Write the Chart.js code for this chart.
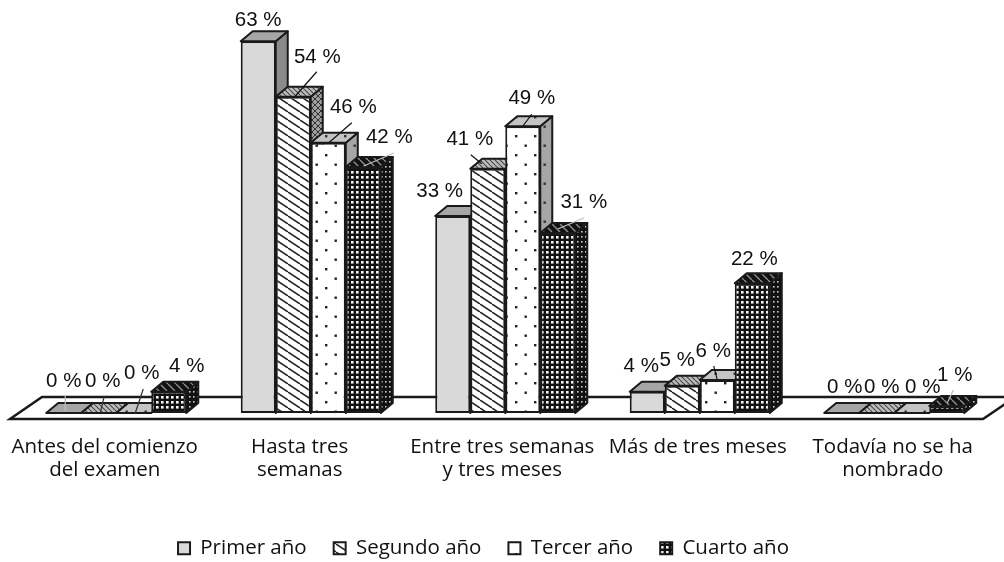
<!DOCTYPE html>
<html><head><meta charset="utf-8">
<script src="https://cdn.jsdelivr.net/npm/chart.js@4"></script>
<style>html,body{margin:0;padding:0;background:#fff}canvas{display:block}</style>
</head><body><canvas id="c" width="1004" height="562"></canvas>
<script>
const categories = [
  ["Antes del comienzo","del examen"],
  ["Hasta tres","semanas"],
  ["Entre tres semanas","y tres meses"],
  "Más de tres meses",
  ["Todavía no se ha","nombrado"]
];
const seriesNames = ["Primer año","Segundo año","Tercer año","Cuarto año"];
const primerAno  = [0, 63.0, 33.4, 3.6, 0];
const segundoAno = [0, 53.6, 41.4, 4.6, 0];
const tercerAno  = [0, 45.8, 48.6, 5.6, 0];
const cuartoAno  = [3.6, 41.7, 30.5, 22.0, 1.2];

/* Layout of the category labels */
const tickNudge = [-11.5,-11,-3,-2,-1.5];
/* Layout of the value labels, relative to each bar's top centre */
const labelNudge = [
  [[0,-32],[0,-21],[-13,-25],[-6,-25],[3,-26]],
  [[4,-32],[24,-39],[-18,-29],[-5,-26],[5,-26]],
  [[8,-40],[25,-35],[9,-28],[-4,-29],[11,-26]],
  [[18,-25],[26,-30],[26,-31],[2,-24],[8,-31]]
];
/* Leader lines: from dx,dy to dx,dy, relative to the bar's top centre; colour */
const leaders = [
  [[1.5,-17,1.5,-2,'#bdbdbd'],null,null,null,null],
  [[5.5,-17,1.5,0,'#333'],[23.5,-25,1.5,0,'#111'],[-17,-14,-6,-5,'#111'],null,null],
  [[9.5,-24,1.5,0,'#333'],[23.5,-20,.5,0,'#111'],[9,-12,0,0,'#111'],[-3.5,-14,0,0,'#111'],null],
  [null,[30.5,-14,.5,-1,'#bdbdbd'],[26,-15,0,-4,'#bdbdbd'],null,[6.5,-16,.5,-3,'#bdbdbd']]
];

function tile(w,h,bg,paint){
  const c=document.createElement('canvas');c.width=w;c.height=h;
  const x=c.getContext('2d');x.fillStyle=bg;x.fillRect(0,0,w,h);
  if(paint)paint(x);
  return x.createPattern(c,'repeat');
}
function diag(col,lw,w,h){h=h||w;return x=>{x.strokeStyle=col;x.lineWidth=lw;
  for(let i=-w;i<=w;i+=w){x.beginPath();x.moveTo(i,0);x.lineTo(i+w,h);x.stroke();}};}
function dots(col,s){return x=>{x.fillStyle=col;x.fillRect(2,2,s,s);x.fillRect(11.5,11.5,s,s);};}
function cells(col,s){return x=>{x.fillStyle=col;x.fillRect(1,1,s,s);};}
function both(a,b){return x=>{a(x);b(x);};}

const faces = [
  {front:'#d9d9d9', top:'#a6a6a6', side:'#8a8a8a'},
  {front:tile(12,8,'#fff',diag('#222',1.5,12,8)),
   top:tile(5,5,'#bcbcbc',diag('#444',1.1,5)),
   side:tile(6,6,'#a0a0a0',both(diag('#333',1,6),x=>{x.strokeStyle='#333';x.beginPath();x.moveTo(6,0);x.lineTo(0,6);x.stroke();}))},
  {front:tile(19,19,'#fff',dots('#222',2.4)),
   top:tile(19,19,'#c4c4c4',dots('#333',2.4)),
   side:tile(19,19,'#a6a6a6',dots('#333',2.4))},
  {front:tile(5,5,'#111',cells('#f4f4f4',2.6)),
   top:tile(8,8,'#111',diag('#8a8a8a',1.5,8)),
   side:tile(4,5,'#111',cells('#ccc',1.6))}
];

const DX=12, DY=-10;
const chart3d = {
  id:'chart3d',
  beforeDraw(chart){
    const items=chart.scales.x.getLabelItems();
    items.forEach((it,i)=>{
      if(!it._nudged){it.options.translation[0]+=tickNudge[i];it._nudged=true;}
    });
  },
  beforeDatasetsDraw(chart){
    const ctx=chart.ctx, a=chart.chartArea;
    const base=a.bottom;
    /* floor */
    ctx.save();
    ctx.lineWidth=2.5;ctx.strokeStyle='#1a1a1a';ctx.fillStyle='#fff';ctx.lineJoin='miter';
    ctx.beginPath();
    ctx.moveTo(a.left-9,base+6);ctx.lineTo(a.left+23,base-16);
    ctx.lineTo(a.right+24,base-16);ctx.lineTo(a.right-8.5,base+6);ctx.closePath();
    ctx.fill();ctx.stroke();
    /* bars, left to right so nearer faces overlap */
    const poly=(pts,fill)=>{ctx.beginPath();pts.forEach((p,i)=>i?ctx.lineTo(p[0],p[1]):ctx.moveTo(p[0],p[1]));
      ctx.closePath();ctx.fillStyle=fill;ctx.fill();ctx.stroke();};
    ctx.lineWidth=2;ctx.lineJoin='round';ctx.strokeStyle='#1a1a1a';
    categories.forEach((_,ci)=>{
      chart.data.datasets.forEach((ds,di)=>{
        const el=chart.getDatasetMeta(di).data[ci];
        const l=el.x-el.width/2, r=el.x+el.width/2, y=el.y, b=el.base;
        if(b-y>0.5) poly([[r,y],[r+DX,y+DY],[r+DX,b+DY],[r,b]],faces[di].side);
        poly([[l,y],[l+DX,y+DY],[r+DX,y+DY],[r,y]],faces[di].top);
        if(b-y>0.5) el.draw(ctx);
      });
    });
    ctx.restore();
    return false;
  },
  afterDraw(chart){
    const ctx=chart.ctx;
    ctx.save();
    ctx.font='20.5px "Liberation Sans"';ctx.textAlign='center';ctx.textBaseline='middle';
    chart.data.datasets.forEach((ds,di)=>{
      chart.getDatasetMeta(di).data.forEach((el,ci)=>{
        const ld=leaders[di][ci];
        if(ld){ctx.strokeStyle=ld[4];ctx.lineWidth=1.2;ctx.beginPath();
          ctx.moveTo(el.x+ld[0],el.y+ld[1]);ctx.lineTo(el.x+ld[2],el.y+ld[3]);ctx.stroke();}
      });
    });
    chart.data.datasets.forEach((ds,di)=>{
      chart.getDatasetMeta(di).data.forEach((el,ci)=>{
        const n=labelNudge[di][ci];
        ctx.fillStyle='#111';
        ctx.fillText(Math.round(ds.data[ci])+' %',el.x+n[0],el.y+n[1]);
      });
    });
    ctx.restore();
  },
  afterLayout(chart){
    const lg=chart.legend;
    lg.left-=21.75;lg.right-=21.75;lg.top+=6.5;lg.bottom+=6.5;
  }
};

const seriesValues=[primerAno,segundoAno,tercerAno,cuartoAno];
new Chart(document.getElementById('c'),{
  type:'bar',
  data:{labels:categories,datasets:seriesNames.map((n,i)=>({
    label:n,data:seriesValues[i],backgroundColor:faces[i].front,
    borderColor:'#1a1a1a',borderWidth:2,borderSkipped:false
  }))},
  plugins:[chart3d],
  options:{
    responsive:false,animation:false,
    layout:{padding:{left:19,right:12.5,top:0,bottom:0}},
    categoryPercentage:0.72,barPercentage:1,
    scales:{
      x:{grid:{display:false},border:{display:false},
        afterFit(s){s.height=91.5;},
        ticks:{autoSkip:false,maxRotation:0,minRotation:0,padding:15,color:'#111',
          font:{family:'"Open Sans"',size:20.5,lineHeight:1.12}}},
      y:{display:false,min:0,max:70}
    },
    plugins:{
      tooltip:{enabled:false},
      legend:{position:'bottom',
        labels:{boxWidth:12,boxHeight:12,padding:27,color:'#111',font:{family:'"Open Sans"',size:20.5},
          generateLabels(ch){return Chart.defaults.plugins.legend.labels.generateLabels(ch).map(o=>({...o,lineWidth:2}));}}
      }
    }
  }
});
</script></body></html>
